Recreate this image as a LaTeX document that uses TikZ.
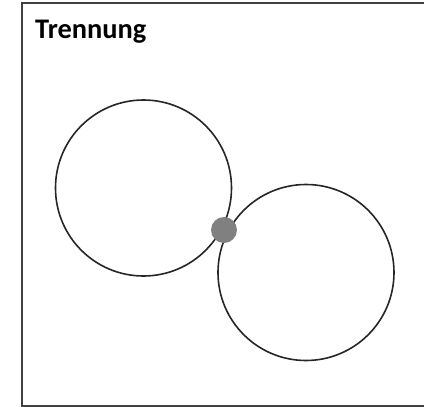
\documentclass[tikz,border=0pt]{standalone}
\usepackage{fontspec}
\setmainfont{Carlito}
\usepackage{tikz}
\usetikzlibrary{positioning}
\definecolor{myGrey}{HTML}{808080}
\definecolor{myFrame}{HTML}{404040}
\begin{document}
\begin{tikzpicture}[x=1bp,y=-1bp,
    ring/.style={draw=black!85, line width=1.6bp, circle, minimum size=176bp, inner sep=0pt},
    joint/.style={fill=myGrey, circle, minimum size=26bp, inner sep=0pt}]
        \useasboundingbox (0,0) rectangle (424,407);
        \draw[color=myFrame, line width=1.6bp] (430,3) -- (22,3) -- (22,406) -- (430,406);
        \node[anchor=base west, inner sep=0pt, font=\bfseries\fontsize{28.5}{32}\selectfont] (title) at (35,38) {Trennung};
        \node[ring] (left) at (143.5,188) {};
        \node[ring] (right) at (306,272.5) {};
        \node[joint] (link) at (224,230) {};
      \end{tikzpicture}
\end{document}
